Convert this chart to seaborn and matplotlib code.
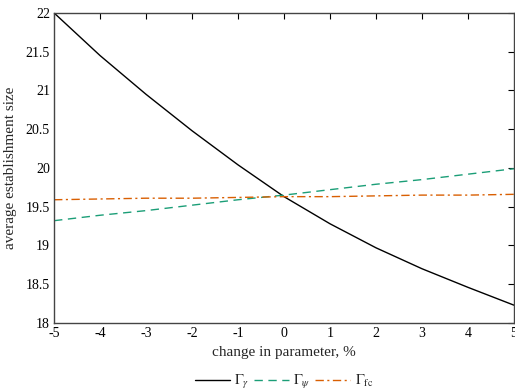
import numpy as np
import pandas as pd
import matplotlib.pyplot as plt
import seaborn as sns

sns.set_style('white')
plt.rcParams['font.family'] = ['Liberation Serif', 'DejaVu Serif']
plt.rcParams['mathtext.fontset'] = 'stix'
plt.rcParams['axes.unicode_minus'] = False

# change in parameter, %
change = [-5, -4, -3, -2, -1, 0, 1, 2, 3, 4, 5]
gamma_size = [22.0, 21.45, 20.95, 20.48, 20.04, 19.63, 19.28, 18.97, 18.70, 18.46, 18.23]
psi_size = [19.32, 19.39, 19.45, 19.52, 19.59, 19.65, 19.72, 19.79, 19.85, 19.92, 19.99]
fc_size = [19.59, 19.60, 19.61, 19.61, 19.62, 19.63, 19.63, 19.64, 19.65, 19.65, 19.66]
series_names = [r'$\Gamma_\gamma$', r'$\Gamma_\psi$', r'$\Gamma_{\rm fc}$']

df = pd.DataFrame({
    'change': change * 3,
    'size': gamma_size + psi_size + fc_size,
    'series': [series_names[0]] * 11 + [series_names[1]] * 11 + [series_names[2]] * 11,
})

fig = plt.figure(figsize=(5.15, 3.92), dpi=100)
ax = fig.add_axes([0.105, 0.176, 0.893, 0.791])

line_colors = ['black', '#1b9e77', '#d95f02']
line_styles = ['-', (0, (6, 4)), (0, (6, 2.5, 1.5, 2.5))]
for name, col, ls in zip(series_names, line_colors, line_styles):
    sub = df[df['series'] == name]
    sns.lineplot(x='change', y='size', data=sub, ax=ax, color=col, linestyle=ls,
                 linewidth=1.0, label=name)

ax.set_xlim(-5, 5)
ax.set_ylim(18, 22)
ax.set_xticks(range(-5, 6))
ax.set_yticks(np.arange(18, 22.01, 0.5))
ax.set_yticklabels(['18', '18.5', '19', '19.5', '20', '20.5', '21', '21.5', '22'])
ax.tick_params(direction='in', length=4, width=0.8, labelsize=10, top=True, right=True,
               colors='black', pad=3)
for sp in ax.spines.values():
    sp.set_color('#444444')
    sp.set_linewidth(1.0)
    sp.set_visible(True)

ax.set_xlabel('change in parameter, %', fontsize=11, labelpad=4)
ax.set_ylabel('average establishment size', fontsize=11, labelpad=6)

ax.legend(loc='center', bbox_to_anchor=(0.5, -0.19), ncol=3, frameon=False,
          fontsize=10.5, handlelength=2.4, handletextpad=0.3, columnspacing=0.3,
          borderpad=0.1)

fig.savefig('out.png', dpi=100)
